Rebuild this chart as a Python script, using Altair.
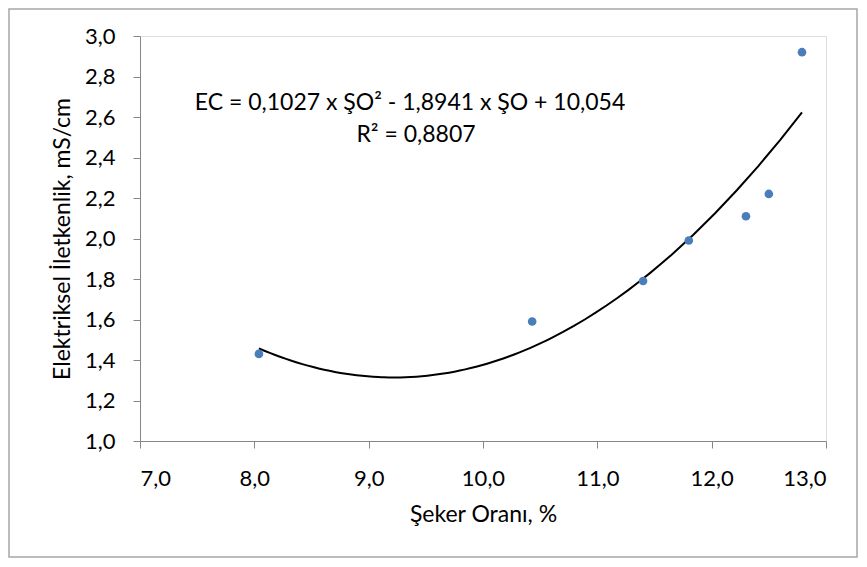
import altair as alt
import pandas as pd

# Data
seker_orani = [8.04, 10.43, 11.40, 11.80, 12.30, 12.50, 12.79]
ec_values = [1.43, 1.59, 1.79, 1.99, 2.11, 2.22, 2.92]

x_ticks = [7, 8, 9, 10, 11, 12, 13]
y_ticks = [1.0, 1.2, 1.4, 1.6, 1.8, 2.0, 2.2, 2.4, 2.6, 2.8, 3.0]

equation_text = "EC = 0,1027 x ŞO² - 1,8941 x ŞO + 10,054"
r2_text = "R² = 0,8807"

df = pd.DataFrame({"SO": seker_orani, "EC": ec_values})

FONT = "Lato"
W, H = 686, 405

x_scale = alt.Scale(domain=[7, 13], nice=False, zero=False)
y_scale = alt.Scale(domain=[1.0, 3.0], nice=False, zero=False)

x_axis = alt.Axis(
    values=x_ticks, labelExpr="replace(format(datum.value, '.1f'), '.', ',')",
    grid=False, domainColor="#868686", tickColor="#868686", tickSize=7,
    labelFontSize=22, labelFont=FONT, labelColor="#000000", labelPadding=20,
    title="Şeker Oranı, %", titleFont=FONT, titleFontSize=23, titleFontWeight="normal",
    titleColor="#000000", titlePadding=14,
)
y_axis = alt.Axis(
    values=y_ticks, labelExpr="replace(format(datum.value, '.1f'), '.', ',')",
    grid=False, domainColor="#868686", tickColor="#868686", tickSize=7,
    labelFontSize=22, labelFont=FONT, labelColor="#000000", labelPadding=18,
    title="Elektriksel İletkenlik, mS/cm", titleFont=FONT, titleFontSize=23,
    titleFontWeight="normal", titleColor="#000000", titlePadding=10,
)

base = alt.Chart(df)

points = base.mark_circle(size=75, color="#4a7ebb", opacity=1).encode(
    x=alt.X("SO:Q", scale=x_scale, axis=x_axis),
    y=alt.Y("EC:Q", scale=y_scale, axis=y_axis),
)

trend = base.transform_regression(
    "SO", "EC", method="poly", order=2
).mark_line(color="#000000", strokeWidth=2).encode(
    x=alt.X("SO:Q", scale=x_scale),
    y=alt.Y("EC:Q", scale=y_scale),
)

eq = alt.Chart(pd.DataFrame({"t": [equation_text]})).mark_text(
    font=FONT, fontSize=23, color="#000000", align="center", baseline="middle"
).encode(x=alt.value(270), y=alt.value(67), text="t:N")

r2 = alt.Chart(pd.DataFrame({"t": [r2_text]})).mark_text(
    font=FONT, fontSize=23, color="#000000", align="center", baseline="middle"
).encode(x=alt.value(276), y=alt.value(99), text="t:N")

border = alt.Chart(pd.DataFrame({"a": [0]})).mark_rect(
    fill=None, stroke="#a6a6a6", strokeWidth=1.5, clip=False
).encode(x=alt.value(-131), x2=alt.value(717), y=alt.value(-27), y2=alt.value(521))

chart = alt.layer(border, trend, points, eq, r2).properties(
    width=W, height=H,
    padding={"left": 132, "top": 28, "right": 33, "bottom": 118},
    autosize=alt.AutoSizeParams(type="none"),
).configure_view(stroke=None).configure(background="#ffffff")

chart.save("out.html", embed_options={"renderer": "svg", "actions": False})
